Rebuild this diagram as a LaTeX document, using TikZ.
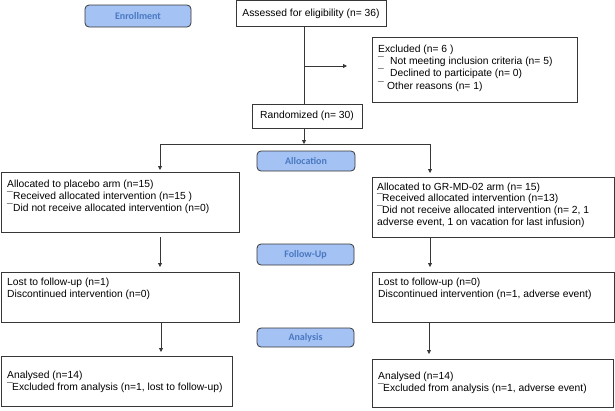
\documentclass[tikz,border=0pt]{standalone}
\usepackage{fontspec}
\setmainfont{Liberation Sans}
\newfontfamily\lblfont{Carlito}
\usetikzlibrary{arrows.meta}
\definecolor{lblfill}{RGB}{164,194,244}
\definecolor{lbltext}{RGB}{74,120,192}
\definecolor{edge}{RGB}{55,55,55}
\newcommand\mk[1]{\makebox[#1][l]{¯}}
\begin{document}
\begin{tikzpicture}[x=1pt,y=-1pt,
  box/.style={draw=edge, line width=0.8pt, inner sep=0pt, anchor=north west},
  cbox/.style={draw=edge, line width=0.8pt, inner sep=0pt, font=\fontsize{10.3}{11.8}\selectfont},
  phase/.style={draw=edge, line width=0.8pt, fill=lblfill, rounded corners=4pt, inner sep=0pt, font=\lblfont\bfseries\fontsize{10}{12}\selectfont, text=lbltext},
  txt/.style={inner sep=0pt, anchor=north west, align=left, font=\fontsize{10.3}{11.8}\selectfont},
  conn/.style={draw=edge, line width=0.8pt},
  arr/.style={conn, -{Triangle[length=4pt,width=4pt]}},
]
\useasboundingbox (0,0) rectangle (615,410);

% phase labels
\node[phase, minimum width=106pt, minimum height=22pt] (enroll) at (138,16) {Enrollment};
\node[phase, minimum width=98pt, minimum height=20pt] (alloc) at (306,161) {Allocation};
\node[phase, minimum width=97pt, minimum height=21pt] (follow) at (305.5,254.5) {Follow-Up};
\node[phase, minimum width=97pt, minimum height=19pt] (analysis) at (305.5,337.5) {Analysis};

% boxes
\node[cbox, minimum width=150pt, minimum height=26pt] (assess) at (311,13.5) {Assessed for eligibility (n= 36)};
\node[cbox, minimum width=110pt, minimum height=24pt] (rand) at (307,116) {Randomized (n= 30)};
\node[box, minimum width=205pt, minimum height=65pt] (excl) at (372,37) {};
\node[box, minimum width=238.5pt, minimum height=60pt] (pl) at (0.5,172) {};
\node[box, minimum width=242pt, minimum height=60pt] (gr) at (372,177) {};
\node[box, minimum width=238.5pt, minimum height=50pt] (lostl) at (0.5,272) {};
\node[box, minimum width=242pt, minimum height=50pt] (lostr) at (372,272) {};
\node[box, minimum width=231.5pt, minimum height=50pt] (anal) at (0.5,356) {};
\node[box, minimum width=241pt, minimum height=48pt] (anar) at (372,359) {};

% texts
\node[txt, font=\fontsize{10.3}{12.3}\selectfont] (excltxt) at (378,44.5) {Excluded (n= 6 )\\
\mk{12pt}Not meeting inclusion criteria (n= 5)\\
\mk{12pt}Declined to participate (n= 0)\\
\mk{9pt}Other reasons (n= 1)};
\node[txt] (pltxt) at (7,180) {Allocated to placebo arm (n=15)\\
\mk{6pt}Received allocated intervention (n=15 )\\
\mk{6pt}Did not receive allocated intervention (n=0)};
\node[txt] (grtxt) at (377,182.5) {Allocated to GR-MD-02 arm (n= 15)\\
\mk{5pt}Received allocated intervention (n=13)\\
\mk{5pt}Did not receive allocated intervention (n= 2, 1\\
adverse event, 1 on vacation for last infusion)};
\node[txt] (lostltxt) at (7,278) {Lost to follow-up (n=1)\\
Discontinued intervention (n=0)};
\node[txt] (lostrtxt) at (378,278) {Lost to follow-up (n=0)\\
Discontinued intervention (n=1, adverse event)};
\node[txt] (analtxt) at (7,371) {Analysed (n=14)\\
\mk{5pt}Excluded from analysis (n=1, lost to follow-up)};
\node[txt] (anartxt) at (378,372) {Analysed (n=14)\\
\mk{5pt}Excluded from analysis (n=1, adverse event)};

% connectors
\coordinate (vx) at (304,0);
\coordinate (j1) at (304,66);
\coordinate (exend) at (347,66);
\coordinate (j2) at (304,144);
\coordinate (bl) at (160,144);
\coordinate (br) at (430,144);
\coordinate (plend) at (160,170);
\coordinate (grend) at (430,173);
\coordinate (p1) at (160,237);
\coordinate (p2) at (160,267);
\coordinate (g2) at (430,267);
\coordinate (l2) at (161,352);
\coordinate (r2) at (429,354);

\draw[conn] (assess.south -| vx) -- (rand.north -| vx);
\draw[arr] (j1) -- (exend);
\draw[arr] (rand.south -| vx) -- (j2);
\draw[conn] (bl) -- (br);
\draw[arr] (bl) -- (plend);
\draw[arr] (br) -- (grend);
\draw[arr] (p1) -- (p2);
\draw[arr] (gr.south -| g2) -- (g2);
\draw[arr] (lostl.south -| l2) -- (l2);
\draw[arr] (lostr.south -| r2) -- (r2);
\end{tikzpicture}
\end{document}
